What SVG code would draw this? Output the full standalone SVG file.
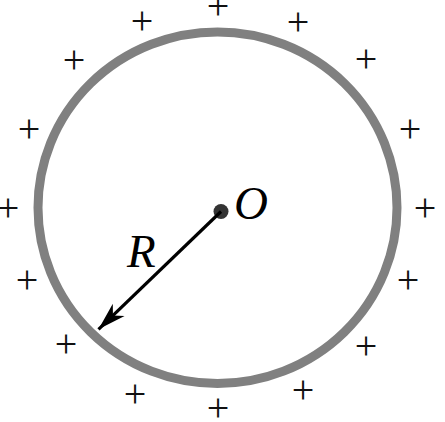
<svg xmlns="http://www.w3.org/2000/svg" width="445" height="422" viewBox="0 0 445 422">
<style>
.plus{font-family:"Liberation Serif","Times New Roman",serif;font-size:40px;fill:#111;text-anchor:middle}
.lbl{font-family:"Liberation Serif","Times New Roman",serif;font-style:italic;font-size:47px;fill:#000}
</style>
<defs>
<marker id="arr" markerUnits="userSpaceOnUse" markerWidth="32" markerHeight="24" refX="0" refY="0" viewBox="-29 -12 31 24" orient="auto">
<path d="M0,0 L-28,-8.5 L-20,0 L-28,8.5 Z" fill="#000"/>
</marker>
</defs>
<g id="sphere">
<ellipse cx="217.5" cy="207.7" rx="179.5" ry="175.8" fill="none" stroke="#808080" stroke-width="9"/>
</g>
<g id="charges">
<text class="plus" x="218" y="19">+</text>
<text class="plus" x="142" y="33.5">+</text>
<text class="plus" x="298" y="35">+</text>
<text class="plus" x="74" y="73">+</text>
<text class="plus" x="366" y="72">+</text>
<text class="plus" x="29" y="142">+</text>
<text class="plus" x="410" y="142">+</text>
<text class="plus" x="8" y="221">+</text>
<text class="plus" x="425" y="221">+</text>
<text class="plus" x="27" y="293">+</text>
<text class="plus" x="408" y="293">+</text>
<text class="plus" x="66" y="357">+</text>
<text class="plus" x="366" y="359">+</text>
<text class="plus" x="135" y="407">+</text>
<text class="plus" x="303" y="403">+</text>
<text class="plus" x="218" y="421">+</text>
</g>
<g id="center">
<circle cx="221" cy="211.5" r="7.5" fill="#333"/>
<text class="lbl" x="234" y="219">O</text>
</g>
<g id="connectors">
<line x1="221" y1="211.5" x2="98.5" y2="329.3" stroke="#000" stroke-width="3.2" marker-end="url(#arr)"/>
</g>
<g id="radius-label">
<text class="lbl" x="127" y="266.5">R</text>
</g>
</svg>
